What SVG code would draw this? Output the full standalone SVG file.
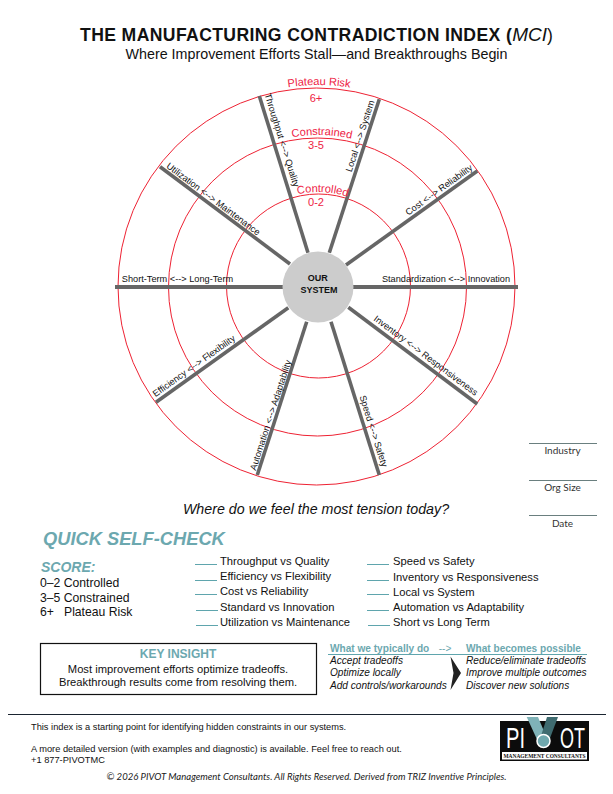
<svg xmlns="http://www.w3.org/2000/svg" width="613" height="794" viewBox="0 0 613 794">
<style>
text{font-family:"Liberation Sans",Arial,sans-serif;fill:#111}
.ring{fill:none;stroke:#ee2233;stroke-width:1}
.spoke{stroke:#666;stroke-width:3.6;fill:none}
.sl{font-size:9.2px;text-anchor:middle}
.rl{font-size:11.1px;fill:#ee2244;text-anchor:middle}
.teal{fill:#6ca8af;font-weight:bold}
.rule{stroke:#5fa5ad;stroke-width:1;fill:none}
.li{font-size:11.2px}
.sc{font-size:12.2px}
.tl{font-size:10.1px;font-style:italic}
.th{font-size:10.1px}
.meta{font-family:Lato,"Liberation Sans",sans-serif;font-size:10px;text-anchor:middle;fill:#333}
.mr{stroke:#6a7f7f;stroke-width:1}
.ft{font-size:9.27px}
</style>
<defs>
<path id="a1" d="M116 287A202 202 0 0 1 520 287"/>
<path id="a2" d="M166 287A152 152 0 0 1 470 287"/>
<path id="a3" d="M223 287A95 95 0 0 1 413 287"/>
</defs>
<rect width="613" height="794" fill="#fff"/>
<g id="header">
<text x="80" y="40.5" font-size="17.6" font-weight="bold" letter-spacing=".38">THE MANUFACTURING CONTRADICTION INDEX (<tspan font-weight="normal" font-style="italic" font-size="19" letter-spacing="0">MCI</tspan><tspan font-weight="normal">)</tspan></text>
<text x="316.5" y="59" font-size="14.3" text-anchor="middle">Where Improvement Efforts Stall—and Breakthroughs Begin</text>
</g>
<g id="rings">
<circle class="ring" cx="316.5" cy="286.5" r="198.5"/>
<circle class="ring" cx="317.5" cy="287" r="149"/>
<circle class="ring" cx="318.5" cy="286" r="92"/>
</g>
<g id="connectors">
<line class="spoke" style="stroke-width:4" x1="115" y1="287" x2="283" y2="287"/>
<line class="spoke" style="stroke-width:4" x1="353" y1="287" x2="518" y2="287"/>
<line class="spoke" x1="259.3" y1="96" x2="308" y2="252.7"/>
<line class="spoke" x1="160" y1="166.7" x2="290" y2="264"/>
<line class="spoke" x1="379.3" y1="99.3" x2="329.3" y2="252.7"/>
<line class="spoke" x1="477.3" y1="171" x2="346" y2="265"/>
<line class="spoke" x1="156" y1="402.3" x2="288.3" y2="307.7"/>
<line class="spoke" x1="257.3" y1="475" x2="306.7" y2="321.7"/>
<line class="spoke" x1="348.3" y1="307.3" x2="477.3" y2="404"/>
<line class="spoke" x1="331" y1="321.7" x2="379.3" y2="475"/>
</g>
<g id="ring-labels">
<text class="rl"><textPath href="#a1" startOffset="318.3">Plateau Risk</textPath></text>
<text class="rl" x="316" y="102">6+</text>
<text class="rl"><textPath href="#a2" startOffset="242.5">Constrained</textPath></text>
<text class="rl" x="316" y="149">3-5</text>
<text class="rl"><textPath href="#a3" startOffset="153.7">Controlled</textPath></text>
<text class="rl" x="316" y="206">0-2</text>
</g>
<g id="spoke-throughput"><text class="sl" transform="translate(279 141) rotate(72.7)">Throughput &lt;--&gt; Quality</text></g>
<g id="spoke-utilization"><text class="sl" transform="translate(211.5 201.5) rotate(36.8)">Utilization &lt;--&gt; Maintenance</text></g>
<g id="spoke-local"><text class="sl" transform="translate(363 137) rotate(-72)">Local &lt;--&gt; System</text></g>
<g id="spoke-cost"><text class="sl" transform="translate(440.7 192.4) rotate(-35.7)">Cost &lt;--&gt; Reliability</text></g>
<g id="spoke-short"><text class="sl" x="177.5" y="282">Short-Term &lt;--&gt; Long-Term</text></g>
<g id="spoke-standard"><text class="sl" x="446" y="282">Standardization &lt;--&gt; Innovation</text></g>
<g id="spoke-efficiency"><text class="sl" transform="translate(195.7 368.4) rotate(-35.6)">Efficiency &lt;--&gt; Flexibility</text></g>
<g id="spoke-automation"><text class="sl" transform="translate(273.6 416) rotate(-72)">Automation &lt;--&gt; Adaptability</text></g>
<g id="spoke-inventory"><text class="sl" transform="translate(424 358) rotate(36.8)">Inventory &lt;--&gt; Responsiveness</text></g>
<g id="spoke-speed"><text class="sl" transform="translate(370.6 432) rotate(72.5)">Speed &lt;--&gt; Safety</text></g>
<g id="our-system">
<circle cx="318" cy="287" r="35.5" fill="#ccc"/>
<text x="317.7" y="281" font-size="9" font-weight="bold" text-anchor="middle">OUR</text>
<text x="319" y="292.5" font-size="9" font-weight="bold" text-anchor="middle">SYSTEM</text>
</g>
<g id="question"><text x="316" y="514" font-size="14.25" font-style="italic" text-anchor="middle">Where do we feel the most tension today?</text></g>
<g id="meta">
<line class="mr" x1="529" y1="443.5" x2="597" y2="443.5"/><text class="meta" x="562.5" y="454">Industry</text>
<line class="mr" x1="529" y1="480.5" x2="597" y2="480.5"/><text class="meta" x="562.5" y="491">Org Size</text>
<line class="mr" x1="529" y1="515.5" x2="597" y2="515.5"/><text class="meta" x="562.5" y="527">Date</text>
</g>
<g id="self-check">
<text class="teal" x="43" y="545" font-size="18.3" font-style="italic">QUICK SELF-CHECK</text>
<text class="teal" x="41" y="572" font-size="14" font-style="italic">SCORE:</text>
<text class="sc" x="40" y="587">0–2 Controlled</text>
<text class="sc" x="40" y="602">3–5 Constrained</text>
<text class="sc" x="40" y="616">6+</text><text class="sc" x="64" y="616">Plateau Risk</text>
</g>
<g id="checklist">
<path class="rule" d="M195 564.5h22M195 580.5h22M195 594.5h22M196 610.5h22M196 625.5h22M367 564.5h22M367 580.5h22M367 594.5h22M367 610.5h22M368 625.5h22"/>
<text class="li" x="220" y="565">Throughput vs Quality</text>
<text class="li" x="220" y="580">Efficiency vs Flexibility</text>
<text class="li" x="220" y="595">Cost vs Reliability</text>
<text class="li" x="220" y="611">Standard vs Innovation</text>
<text class="li" x="220" y="626">Utilization vs Maintenance</text>
<text class="li" x="393" y="565">Speed vs Safety</text>
<text class="li" x="393" y="581">Inventory vs Responsiveness</text>
<text class="li" x="393" y="596">Local vs System</text>
<text class="li" x="393" y="611">Automation vs Adaptability</text>
<text class="li" x="393" y="626">Short vs Long Term</text>
</g>
<g id="key-insight">
<rect x="40.5" y="643.5" width="276" height="51" fill="#fff" stroke="#111" stroke-width="1.2"/>
<text class="teal" x="178" y="658" font-size="12" text-anchor="middle">KEY INSIGHT</text>
<text class="li" x="178" y="673" text-anchor="middle">Most improvement efforts optimize tradeoffs.</text>
<text class="li" x="178" y="686" text-anchor="middle">Breakthrough results come from resolving them.</text>
</g>
<g id="compare">
<text class="teal th" x="330" y="652">What we typically do</text>
<text class="teal th" x="445" y="652" text-anchor="middle" style="font-weight:normal">--&gt;</text>
<text class="teal th" x="466" y="652">What becomes possible</text>
<line class="rule" x1="328" y1="654.5" x2="587" y2="654.5"/>
<text class="tl" x="330" y="664">Accept tradeoffs</text>
<text class="tl" x="330" y="676">Optimize locally</text>
<text class="tl" x="330" y="689">Add controls/workarounds</text>
<text class="tl" x="466" y="664">Reduce/eliminate tradeoffs</text>
<text class="tl" x="466" y="676">Improve multiple outcomes</text>
<text class="tl" x="466" y="689">Discover new solutions</text>
<polygon points="450.5,656.5 461,673 450.5,690 453.5,673" fill="#222"/>
</g>
<g id="footer">
<line x1="8" y1="714.5" x2="606" y2="714.5" stroke="#1a2430" stroke-width="1.2"/>
<text class="ft" x="31" y="730">This index is a starting point for identifying hidden constraints in our systems.</text>
<text class="ft" x="31" y="752">A more detailed version (with examples and diagnostic) is available.  Feel free to reach out.</text>
<text class="ft" x="31" y="763">+1 877-PIVOTMC</text>
<text x="306.5" y="780" font-size="9.55" font-style="italic" text-anchor="middle" style="font-family:Lato,'Liberation Sans',sans-serif;fill:#222">© 2026 PIVOT Management Consultants. All Rights Reserved. Derived from TRIZ Inventive Principles.</text>
</g>
<g id="logo">
<rect x="500" y="721" width="89" height="40" fill="#0c0c0c"/>
<polygon points="526.7,717 538,717 546,736 540,746" fill="#7fb2b7"/>
<polygon points="558,717 547,717 541,736 547,746" fill="#3f6b70"/>
<circle cx="543.5" cy="741" r="6.5" fill="#6fa8ae" stroke="#fff" stroke-width="1.5"/>
<text x="506" y="748" font-size="29" style="fill:#fff" textLength="19" lengthAdjust="spacingAndGlyphs">PI</text>
<text x="560" y="748" font-size="29" style="fill:#fff" textLength="25" lengthAdjust="spacingAndGlyphs">OT</text>
<rect x="502" y="752" width="85" height="7.5" fill="#fff"/>
<text x="544.5" y="758" font-size="5.6" font-weight="bold" text-anchor="middle" textLength="82" lengthAdjust="spacingAndGlyphs" style="font-family:'Liberation Serif',serif">MANAGEMENT CONSULTANTS</text>
</g>
</svg>
